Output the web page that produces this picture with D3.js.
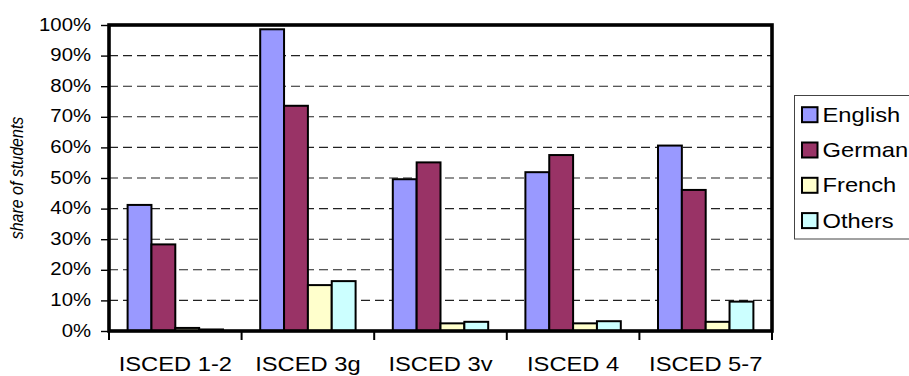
<!DOCTYPE html>
<html>
<head>
<meta charset="utf-8">
<script src="https://cdn.jsdelivr.net/npm/d3@7"></script>
<style>
  html, body { margin: 0; padding: 0; background: #fff; }
  svg { display: block; font-family: Arial, "Liberation Sans", sans-serif; }
</style>
</head>
<body>
<svg id="chart" width="909" height="376"></svg>
<script>
// Education levels and languages studied
const categories = ["ISCED 1-2", "ISCED 3g", "ISCED 3v", "ISCED 4", "ISCED 5-7"];
const seriesNames = ["English", "German", "French", "Others"];
const english = [0.412, 0.986, 0.496, 0.519, 0.606];
const german  = [0.283, 0.736, 0.551, 0.575, 0.461];
const french  = [0.010, 0.150, 0.025, 0.025, 0.030];
const others  = [0.005, 0.163, 0.030, 0.032, 0.096];
const yTicks = [0, 0.1, 0.2, 0.3, 0.4, 0.5, 0.6, 0.7, 0.8, 0.9, 1.0];
const colors = ["#9999FF", "#993366", "#FFFFCC", "#CCFFFF"];
const yTitle = "share of students";

const seriesValues = [english, german, french, others];
const rows = categories.map((c, i) => ({
  category: c,
  values: seriesNames.map((s, k) => ({ key: s, value: seriesValues[k][i] }))
}));

const svg = d3.select("#chart");
const plot = { left: 109, right: 772, top: 25, bottom: 331 };
const SX = 1.13; // horizontal glyph stretch

const x0 = d3.scaleBand().domain(categories).range([plot.left, plot.right]).padding(0);
const x1 = d3.scaleBand().domain(seriesNames).range([0, x0.bandwidth()])
  .paddingInner(0).paddingOuter(0.78);
const y = d3.scaleLinear().domain([0, 1]).range([plot.bottom, plot.top]);
const color = d3.scaleOrdinal().domain(seriesNames).range(colors);

// dashed gridlines
svg.append("g")
  .selectAll("line")
  .data(yTicks.filter(t => t > 0 && t < 1))
  .join("line")
  .attr("x1", plot.left).attr("x2", plot.right)
  .attr("y1", d => y(d)).attr("y2", d => y(d))
  .attr("stroke", "#222").attr("stroke-width", 1.1)
  .attr("stroke-dasharray", "9,5");

// bars
const groups = svg.append("g")
  .selectAll("g")
  .data(rows)
  .join("g")
  .attr("transform", d => `translate(${x0(d.category)},0)`);

groups.selectAll("rect")
  .data(d => d.values)
  .join("rect")
  .attr("x", d => x1(d.key))
  .attr("y", d => y(d.value))
  .attr("width", x1.bandwidth())
  .attr("height", d => y(0) - y(d.value))
  .attr("fill", d => color(d.key))
  .attr("stroke", "#000")
  .attr("stroke-width", 2);

// y axis
const yAxis = svg.append("g")
  .attr("transform", `translate(${plot.left},0)`)
  .call(d3.axisLeft(y).tickValues(yTicks).tickFormat(d3.format(".0%")).tickSize(8).tickSizeOuter(0));
yAxis.select(".domain").remove();
yAxis.selectAll(".tick line").attr("stroke", "#000").attr("stroke-width", 1.4);
yAxis.selectAll(".tick text")
  .attr("x", -18 / SX)
  .attr("dy", null)
  .attr("y", 5)
  .attr("transform", `scale(${SX},1)`)
  .attr("font-size", 18)
  .attr("fill", "#000")
  .attr("font-family", "Arial, 'Liberation Sans', sans-serif");

// x axis
const xAxis = svg.append("g")
  .attr("transform", `translate(0,${plot.bottom})`)
  .call(d3.axisBottom(x0).tickSize(0).tickSizeOuter(0));
xAxis.select(".domain").remove();
xAxis.selectAll(".tick line").remove();
xAxis.selectAll(".tick text")
  .attr("y", 40.5)
  .attr("dy", null)
  .attr("transform", `scale(${SX},1)`)
  .attr("font-size", 21)
  .attr("fill", "#000")
  .attr("font-family", "Arial, 'Liberation Sans', sans-serif");

// category separators below the axis
const bounds = categories.map(c => x0(c)).concat([plot.right]);
svg.append("g")
  .selectAll("line")
  .data(bounds)
  .join("line")
  .attr("x1", d => d).attr("x2", d => d)
  .attr("y1", plot.bottom).attr("y2", plot.bottom + 9)
  .attr("stroke", "#000").attr("stroke-width", 2);

// plot frame
svg.append("rect")
  .attr("x", plot.left).attr("y", plot.top)
  .attr("width", plot.right - plot.left).attr("height", plot.bottom - plot.top)
  .attr("fill", "none").attr("stroke", "#000").attr("stroke-width", 3.6);

// y axis title
svg.append("text")
  .attr("transform", `translate(23,178) scale(${SX},1) rotate(-90)`)
  .attr("text-anchor", "middle")
  .attr("font-size", 16)
  .attr("font-style", "italic")
  .attr("fill", "#000")
  .text(yTitle);

// legend
const legend = svg.append("g");
legend.append("rect")
  .attr("x", 794.5).attr("y", 95.5)
  .attr("width", 140).attr("height", 143.5)
  .attr("fill", "#fff").attr("stroke", "#444").attr("stroke-width", 1);

const items = legend.selectAll("g.item")
  .data(seriesNames)
  .join("g")
  .attr("class", "item")
  .attr("transform", (d, i) => `translate(802,${114.7 + i * 35.3})`);
items.append("rect")
  .attr("x", 0).attr("y", -7.5)
  .attr("width", 15.5).attr("height", 15)
  .attr("fill", d => color(d))
  .attr("stroke", "#000").attr("stroke-width", 2);
items.append("text")
  .attr("transform", `translate(20.5,7) scale(${SX},1)`)
  .attr("font-size", 21)
  .attr("fill", "#000")
  .text(d => d);
</script>
</body>
</html>
